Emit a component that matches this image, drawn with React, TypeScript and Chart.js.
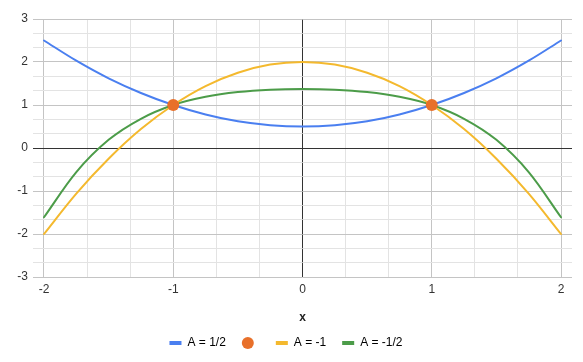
import React, { useEffect, useRef } from 'react';
import { Chart, registerables } from 'chart.js';

Chart.register(...registerables);

// ---- data ----
const xValues = [-2, -1.75, -1.5, -1.25, -1, -0.75, -0.5, -0.25, 0, 0.25, 0.5, 0.75, 1, 1.25, 1.5, 1.75, 2];
const halfValues = [2.5, 2.03, 1.62, 1.28, 1.0, 0.78, 0.62, 0.53, 0.5, 0.53, 0.62, 0.78, 1.0, 1.28, 1.62, 2.03, 2.5];
const minusOneValues = [-2.0, -1.06, -0.25, 0.44, 1.0, 1.44, 1.75, 1.94, 2.0, 1.94, 1.75, 1.44, 1.0, 0.44, -0.25, -1.06, -2.0];
const minusHalfValues = [-1.61, -0.56, 0.19, 0.68, 1.0, 1.19, 1.3, 1.355, 1.37, 1.355, 1.3, 1.19, 1.0, 0.68, 0.19, -0.56, -1.61];
const markerX = [-1, 1];
const markerY = [1, 1];
const seriesLabels = ['A = 1/2', '', 'A = -1', 'A = -1/2'];
const xAxisTitle = 'x';
const xTickValues = [-2, -1, 0, 1, 2];
const yTickValues = [-3, -2, -1, 0, 1, 2, 3];

// ---- styles ----
const BLUE = '#4a7ff0';
const ORANGE = '#e8702a';
const YELLOW = '#f4b92e';
const GREEN = '#4c9c49';
const FONT = '"Liberation Sans", Arial, sans-serif';

const X_MIN = -2.085;
const X_MAX = 2.085;
const MINOR_DIV = 3;

const isWhole = (v: number) => Math.abs(v - Math.round(v)) < 1e-6;

function gridTicks(values: number[]) {
  const out: number[] = [];
  for (let i = 0; i < values.length - 1; i++) {
    const a = values[i];
    const b = values[i + 1];
    for (let k = 0; k < MINOR_DIV; k++) out.push(a + ((b - a) * k) / MINOR_DIV);
  }
  out.push(values[values.length - 1]);
  return out;
}

function gridColor(v: number | undefined) {
  if (v === undefined) return '#e3e3e3';
  if (Math.abs(v) < 1e-6) return '#333333';
  if (isWhole(v)) return '#c4c4c4';
  return '#e3e3e3';
}

export default function App() {
  const canvasRef = useRef<HTMLCanvasElement | null>(null);

  useEffect(() => {
    const canvas = canvasRef.current;
    if (!canvas) return;

    const toPts = (ys: number[]) => xValues.map((x, i) => ({ x, y: ys[i] }));

    const lineStyle = {
      borderWidth: 2,
      pointRadius: 0,
      tension: 0.33,
      borderCapStyle: 'round',
    };

    const chart = new Chart(canvas, {
      type: 'line',
      data: {
        datasets: [
          {
            label: seriesLabels[0],
            data: toPts(halfValues),
            borderColor: BLUE,
            backgroundColor: BLUE,
            ...lineStyle,
            order: 1,
          },
          {
            label: seriesLabels[1],
            data: markerX.map((x, i) => ({ x, y: markerY[i] })),
            borderColor: ORANGE,
            backgroundColor: ORANGE,
            showLine: false,
            pointRadius: 6,
            pointBorderWidth: 0,
            order: 0,
          },
          {
            label: seriesLabels[2],
            data: toPts(minusOneValues),
            borderColor: YELLOW,
            backgroundColor: YELLOW,
            ...lineStyle,
            order: 2,
          },
          {
            label: seriesLabels[3],
            data: toPts(minusHalfValues),
            borderColor: GREEN,
            backgroundColor: GREEN,
            ...lineStyle,
            order: 3,
          },
        ],
      },
      options: {
        responsive: false,
        animation: false,
        layout: { padding: { top: 19, right: 11, left: 0, bottom: 3 } },
        font: { family: FONT, size: 12 },
        plugins: {
          tooltip: { enabled: false },
          legend: {
            position: 'bottom',
            labels: {
              usePointStyle: true,
              boxHeight: 8.5,
              padding: 16,
              color: '#222',
              font: { family: FONT, size: 12 },
              generateLabels: () => [
                { text: seriesLabels[0], pointStyle: 'line', strokeStyle: BLUE, fillStyle: BLUE, lineWidth: 4, hidden: false, datasetIndex: 0 },
                { text: seriesLabels[1], pointStyle: 'circle', strokeStyle: ORANGE, fillStyle: ORANGE, lineWidth: 0, hidden: false, datasetIndex: 1 },
                { text: seriesLabels[2], pointStyle: 'line', strokeStyle: YELLOW, fillStyle: YELLOW, lineWidth: 4, hidden: false, datasetIndex: 2 },
                { text: seriesLabels[3], pointStyle: 'line', strokeStyle: GREEN, fillStyle: GREEN, lineWidth: 4, hidden: false, datasetIndex: 3 },
              ] as any,
            },
          },
        },
        scales: {
          x: {
            type: 'linear',
            min: X_MIN,
            max: X_MAX,
            afterBuildTicks: (s: any) => {
              s.ticks = gridTicks(xTickValues).map((v) => ({ value: v }));
            },
            afterFit: (s: any) => {
              s.height = 44;
            },
            ticks: {
              autoSkip: false,
              maxRotation: 0,
              padding: 5,
              color: '#333',
              font: { family: FONT, size: 12 },
              callback: (v: any) => (isWhole(Number(v)) ? String(Math.round(Number(v))) : ''),
            },
            grid: {
              drawTicks: false,
              lineWidth: 1,
              color: (c: any) => gridColor(c.tick ? c.tick.value : undefined),
            },
            border: { display: false },
            title: {
              display: true,
              text: xAxisTitle,
              color: '#222',
              font: { family: FONT, size: 12, weight: 'bold' },
              padding: { top: 0, bottom: -4 },
            },
          },
          y: {
            type: 'linear',
            min: yTickValues[0],
            max: yTickValues[yTickValues.length - 1],
            afterBuildTicks: (s: any) => {
              s.ticks = gridTicks(yTickValues).map((v) => ({ value: v }));
            },
            afterFit: (s: any) => {
              s.width = 33;
            },
            ticks: {
              autoSkip: false,
              padding: 5,
              color: '#333',
              font: { family: FONT, size: 12 },
              callback: (v: any) => (isWhole(Number(v)) ? String(Math.round(Number(v))) : ''),
            },
            grid: {
              drawTicks: false,
              lineWidth: 1,
              color: (c: any) => gridColor(c.tick ? c.tick.value : undefined),
            },
            border: { display: false },
          },
        },
      } as any,
    });

    return () => chart.destroy();
  }, []);

  return (
    <div style={{ position: 'absolute', left: 0, top: 0, width: 583, height: 362, background: '#fff' }}>
      <canvas ref={canvasRef} width={583} height={362} style={{ display: 'block' }} />
    </div>
  );
}
